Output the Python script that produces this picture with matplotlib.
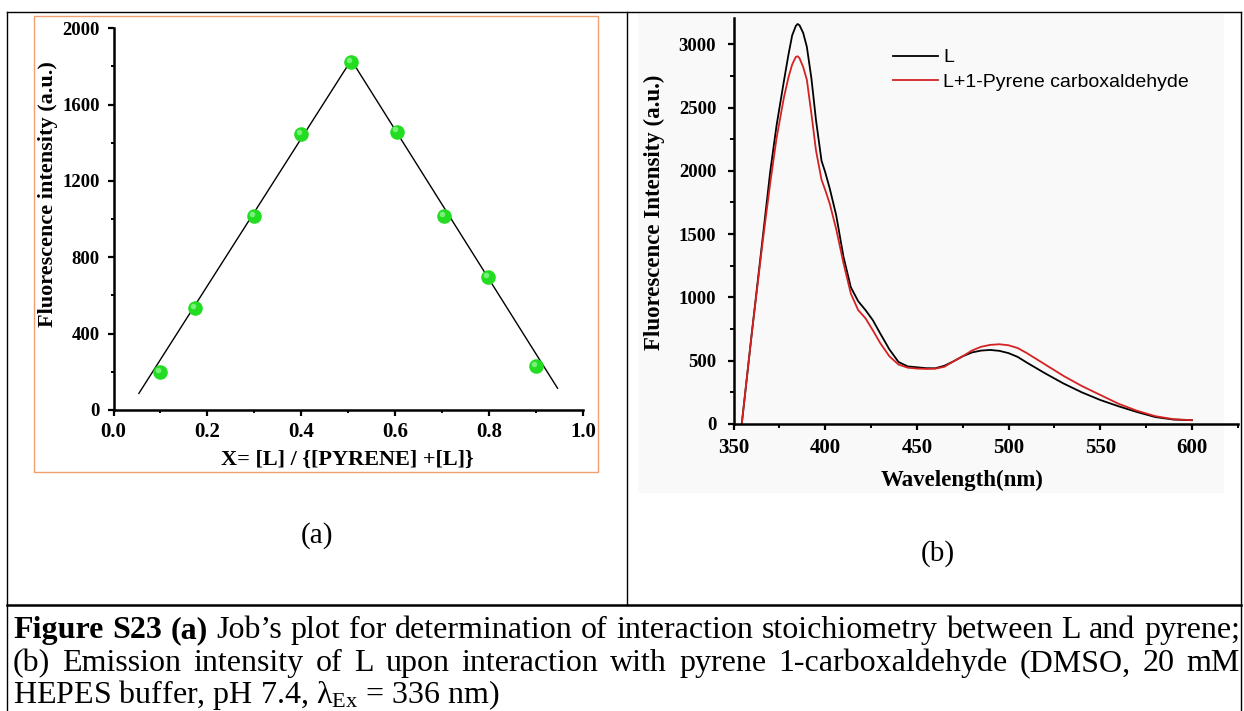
import numpy as np
import matplotlib
matplotlib.use("Agg")
import matplotlib.pyplot as plt
from matplotlib.patches import Rectangle
import matplotlib.transforms as mtransforms

plt.rcParams['font.family'] = ['Liberation Serif', 'DejaVu Serif']
plt.rcParams['mathtext.fontset'] = 'custom'
plt.rcParams['mathtext.rm'] = 'Liberation Serif'

# (a) Job's plot
job_x = [0.10, 0.173, 0.30, 0.40, 0.506, 0.603, 0.704, 0.798, 0.90]
job_y = [198, 533, 1015, 1445, 1822, 1459, 1018, 695, 230]
fit_x = [0.054, 0.506, 0.945]
fit_y = [87, 1834, 114]

# (b) emission spectra
wl = [354.5, 360, 366, 370, 373.5, 377.5, 380, 382, 384, 385, 386, 388, 390,
      392.5, 395, 398, 400, 402.5, 406, 410, 414, 418, 422, 426, 430, 435,
      440, 445, 450, 455, 460, 465, 470, 475, 480, 485, 490, 495, 500, 505,
      510, 520, 530, 540, 550, 560, 570, 580, 590, 600]
int_L = [0, 720, 1480, 1990, 2360, 2710, 2920, 3070, 3145, 3160, 3150, 3090,
         2980, 2730, 2400, 2080, 1990, 1860, 1650, 1320, 1080, 970, 900, 820,
         716, 590, 490, 455, 448, 441, 440, 460, 495, 535, 565, 580, 585, 578,
         560, 530, 485, 400, 320, 250, 190, 140, 95, 55, 35, 30]
int_LP = [0, 720, 1450, 1900, 2260, 2580, 2740, 2840, 2900, 2905, 2890, 2820,
          2720, 2450, 2160, 1930, 1850, 1740, 1540, 1270, 1030, 900, 835, 740,
          640, 535, 470, 445, 438, 435, 437, 452, 495, 535, 580, 610, 625, 630,
          622, 600, 560, 470, 380, 300, 230, 160, 105, 62, 38, 30]
series_names = ['L', 'L+1-Pyrene carboxaldehyde']

caption_1 = [('Figure', 'bold'), ('S23', 'bold'), ('(a)', 'bold')] + \
    [(w, 'normal') for w in u'Job\u2019s plot for determination of interaction '
     u'stoichiometry between L and pyrene;'.split()]
caption_2 = [(w, 'normal') for w in '(b) Emission intensity of L upon interaction '
             'with pyrene 1-carboxaldehyde (DMSO, 20 mM'.split()]
caption_3 = r'HEPES buffer, pH 7.4, $\mathregular{\lambda_{Ex}}$ = 336 nm)'

W, H = 1244, 711
fig = plt.figure(figsize=(W / 100, H / 100), dpi=100)

# page layer in pixel coordinates for the table frame and captions
page = fig.add_axes([0, 0, 1, 1])
page.set_xlim(0, W)
page.set_ylim(H, 0)
page.axis('off')
page.add_patch(Rectangle((638, 14), 586, 479, facecolor='#f9f9f9',
                         edgecolor='none', zorder=0))
frame_kw = dict(color='black', lw=1.0)
page.plot([7, 1241], [12, 12], **frame_kw)
page.plot([7, 7], [12, 711], **frame_kw)
page.plot([1241, 1241], [12, 711], **frame_kw)
page.plot([627, 627], [12, 605], **frame_kw)
page.plot([7, 1241], [605, 605], color='black', lw=1.8)
page.add_patch(Rectangle((34, 16), 564, 456, facecolor='none',
                         edgecolor='#f0a070', lw=1.0))

page.text(317, 536, '(a)', fontsize=21, ha='center', va='center')
page.text(938, 554, '(b)', fontsize=21, ha='center', va='center')

cap_fs = 23
renderer = fig.canvas.get_renderer()


def justified(words, y, x0=13, x1=1240):
    items = [page.text(0, y, w, fontsize=cap_fs, fontweight=wt, va='baseline')
             for w, wt in words]
    widths = [t.get_window_extent(renderer).width for t in items]
    gap = (x1 - x0 - sum(widths)) / (len(items) - 1)
    x = x0
    for t, w in zip(items, widths):
        t.set_x(x)
        x += w + gap


justified(caption_1, 638)
justified(caption_2, 671)
page.text(13, 703, caption_3, fontsize=cap_fs, va='baseline')


def px_axes(x0, x1, y0, y1):
    return fig.add_axes([x0 / W, 1 - y1 / H, (x1 - x0) / W, (y1 - y0) / H])


def style(ax, major_len, minor_len, xpad, ypad):
    for s in ['top', 'right']:
        ax.spines[s].set_visible(False)
    for s in ['left', 'bottom']:
        ax.spines[s].set_linewidth(1.8)
    ax.tick_params(which='major', direction='out', length=major_len, width=1.6)
    ax.tick_params(which='minor', direction='out', length=minor_len, width=1.4)
    ax.tick_params(axis='x', labelsize=15, pad=xpad)
    ax.tick_params(axis='y', labelsize=13.5, pad=ypad)
    for lab in ax.get_xticklabels() + ax.get_yticklabels():
        lab.set_fontweight('bold')
    ax.patch.set_alpha(0)


# panel (a)
axa = px_axes(113.5, 583.4, 28.3, 410)
axa.plot(fit_x[:2], fit_y[:2], color='black', lw=1.0)
axa.plot(fit_x[1:], fit_y[1:], color='black', lw=1.0)
axa.plot(job_x, job_y, 'o', ms=10.5, color='#22dd22', mec='none', zorder=3)
shift = mtransforms.ScaledTranslation(-1.5 / 72, 1.5 / 72, fig.dpi_scale_trans)
axa.plot(job_x, job_y, 'o', ms=4, color='#8ef58e', mec='none', zorder=4,
         alpha=0.8, transform=axa.transData + shift)
axa.set_xlim(0, 1.0)
axa.set_ylim(0, 2000)
axa.set_xticks(np.arange(0, 1.01, 0.2))
axa.set_xticks(np.arange(0.1, 1.0, 0.2), minor=True)
axa.set_yticks(np.arange(0, 2001, 400))
axa.set_yticks(np.arange(200, 2000, 400), minor=True)
axa.set_xticklabels(['0.0', '0.2', '0.4', '0.6', '0.8', '1.0'])
style(axa, 4, 2.5, 4.5, 6)
axa.set_xlabel('X= [L] / {[PYRENE] +[L]}', fontsize=16, fontweight='bold')
axa.set_ylabel('Fluorescence intensity (a.u.)', fontsize=16, fontweight='bold')
axa.xaxis.set_label_coords(0.498, -0.131)
axa.xaxis.label.set_va('center')
axa.yaxis.set_label_coords(-0.140, 0.566)
axa.yaxis.label.set_va('center')

# panel (b)
axb = px_axes(733.5, 1237.7, 18.3, 424)
axb.plot(wl, int_L, color='black', lw=1.3, label=series_names[0])
axb.plot(wl, int_LP, color='#d42222', lw=1.3, label=series_names[1])
axb.set_xlim(350, 625)
axb.set_ylim(0, 3205)
axb.set_xticks(np.arange(350, 601, 50))
axb.set_xticks(np.arange(375, 626, 50), minor=True)
axb.set_yticks(np.arange(0, 3001, 500))
axb.set_yticks(np.arange(250, 3200, 500), minor=True)
style(axb, 4.5, 3, 5.5, 8)
axb.set_xlabel('Wavelength(nm)', fontsize=16.5, fontweight='bold')
axb.set_ylabel('Fluorescence Intensity (a.u.)', fontsize=16.5, fontweight='bold')
axb.xaxis.set_label_coords(0.454, -0.138)
axb.xaxis.label.set_va('center')
axb.yaxis.set_label_coords(-0.156, 0.521)
axb.yaxis.label.set_va('center')
axb.legend(loc='upper left', bbox_to_anchor=(0.316, 0.925), frameon=False,
           prop={'family': 'Liberation Sans', 'size': 14},
           handlelength=2.3, handletextpad=0.3, labelspacing=0.35,
           borderpad=0, borderaxespad=0)

fig.savefig('out.png', dpi=100)
